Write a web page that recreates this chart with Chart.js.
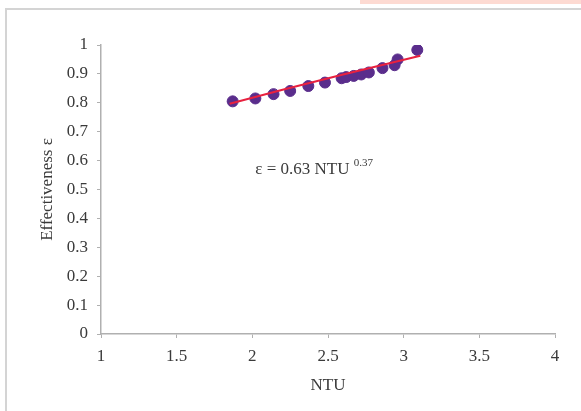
<!DOCTYPE html>
<html>
<head>
<meta charset="utf-8">
<script src="https://cdn.jsdelivr.net/npm/chart.js@4"></script>
<style>
  body { margin: 0; background: #fff; }
  #wrap { position: relative; width: 581px; height: 411px; }
  #frame { position: absolute; left: 5px; top: 8px; width: 580px; height: 410px; border: 2px solid #d4d4d4; box-sizing: border-box; pointer-events: none; }
  #strip { position: absolute; left: 360px; top: 0; width: 221px; height: 4px; background: #fddad2; }
</style>
</head>
<body>
<div id="wrap">
  <canvas id="myChart" width="581" height="411"></canvas>
  <div id="frame"></div>
  <div id="strip"></div>
</div>
<script>
var ntu = [1.87, 2.02, 2.14, 2.25, 2.37, 2.48, 2.59, 2.62, 2.67, 2.72, 2.77, 2.86, 2.94, 2.96, 3.09];
var eff = [0.805, 0.815, 0.830, 0.841, 0.858, 0.870, 0.885, 0.889, 0.893, 0.898, 0.905, 0.920, 0.930, 0.950, 0.983];

// power fit line
var fitNtu = [1.85, 2.2, 2.6, 3.11];
var fitEff = [0.797, 0.845, 0.898, 0.963];

var xTicks = [1, 1.5, 2, 2.5, 3, 3.5, 4];

var txt = '#3a3a3a';
var font = { family: '"Liberation Serif", "Times New Roman", serif', size: 17 };

var pts = ntu.map(function(v, i){ return { x: v, y: eff[i] }; });
var fit = fitNtu.map(function(v, i){ return { x: v, y: fitEff[i] }; });

var eqLabel = {
  id: 'eqLabel',
  afterDatasetsDraw: function(chart){
    var c = chart.ctx;
    var x = chart.scales.x.getPixelForValue(2.02);
    var y = chart.scales.y.getPixelForValue(0.57);
    c.save();
    c.fillStyle = txt;
    c.font = '17px "Liberation Serif", serif';
    c.textBaseline = 'middle';
    var s = '\u03b5 = 0.63 NTU ';
    c.fillText(s, x, y);
    var w = c.measureText(s).width;
    c.font = '11px "Liberation Serif", serif';
    c.fillText('0.37', x + w, y - 6);
    c.restore();
  }
};

var ctx = document.getElementById('myChart');
var myChart = new Chart(ctx, {
  type: 'scatter',
  data: {
    datasets: [{
      label: 'fit',
      data: fit,
      showLine: true,
      borderColor: '#e8213f',
      borderWidth: 2,
      pointRadius: 0,
      order: 0
    }, {
      label: 'data',
      data: pts,
      backgroundColor: '#5a2d8c',
      borderColor: '#5a2d8c',
      pointRadius: 5.5,
      order: 1
    }]
  },
  options: {
    responsive: false,
    animation: false,
    layout: { padding: { left: 37, right: 26, top: 45, bottom: 11 } },
    plugins: { legend: { display: false }, tooltip: { enabled: false } },
    scales: {
      x: {
        type: 'linear', min: 1, max: 4,
        afterBuildTicks: function(s){ s.ticks = xTicks.map(function(v){ return { value: v }; }); },
        afterFit: function(s){ s.height = 66; },
        border: { color: '#b0b0b0', width: 1.5 },
        grid: { drawOnChartArea: false, tickLength: 4, color: '#b0b0b0' },
        ticks: { color: txt, font: font, padding: 8, maxRotation: 0,
          callback: function(v){ return String(v); } },
        title: { display: true, text: 'NTU', color: txt, font: font, padding: { top: 8 } }
      },
      y: {
        type: 'linear', min: 0, max: 1,
        afterFit: function(s){ s.width = 64; },
        border: { color: '#b0b0b0', width: 1.5 },
        grid: { drawOnChartArea: false, tickLength: 4, color: '#b0b0b0' },
        ticks: { color: txt, font: font, stepSize: 0.1, padding: 9,
          callback: function(v){ return String(+v.toFixed(1)); } },
        title: { display: true, text: 'Effectiveness \u03b5', color: txt, font: font, padding: 0 }
      }
    }
  },
  plugins: [eqLabel]
});
</script>
</body>
</html>
